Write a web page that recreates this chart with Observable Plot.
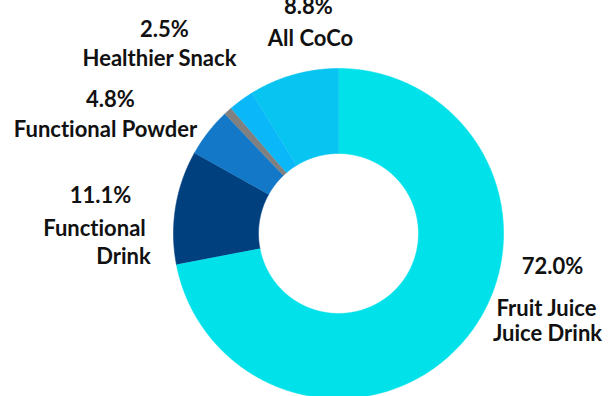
<!DOCTYPE html>
<html>
<head>
<meta charset="utf-8">
<script src="https://cdn.jsdelivr.net/npm/d3@7"></script>
<script src="https://cdn.jsdelivr.net/npm/@observablehq/plot@0.6"></script>
<style>
  html, body { margin: 0; padding: 0; background: #fff; }
  #chart { width: 616px; height: 396px; overflow: hidden; }
  #chart text { font-variant-ligatures: none; font-feature-settings: "liga" 0, "dlig" 0; }
</style>
</head>
<body>
<div id="chart"></div>
<script>
// ---- data ----
const categories = ["Fruit Juice\nJuice Drink", "Functional\nDrink", "Functional Powder", "Other", "Healthier Snack", "All CoCo"];
const shares = [72.0, 11.1, 4.8, 0.8, 2.5, 8.8];
const percentLabels = ["72.0%", "11.1%", "4.8%", "", "2.5%", "8.8%"];
const colors = ["#00E1EA", "#00407E", "#1478C8", "#808080", "#0AB8FA", "#08C4F0"];

// ---- layout (pixel-like data space) ----
const W = 616, H = 396;
const cx = 338, cy = 233, outerR = 165, innerR = 80;
// label anchors: [percent x, percent y, name x, name y]
const labelLayout = [
  {px: 552, py: 273, nx: 546, ny: 315, anchor: "middle"},
  {px: 100, py: 202, nx: 94,  ny: 235, anchor: "middle"},
  {px: 110, py: 106, nx: 105, ny: 136, anchor: "middle"},
  null,
  {px: 164, py: 36,  nx: 159, ny: 65,  anchor: "middle"},
  {px: 308, py: 13,  nx: 310, ny: 45,  anchor: "middle"}
];

const slices = categories.map((c, i) => ({name: c, value: shares[i], color: colors[i], pct: percentLabels[i], i}));
const arcs = d3.pie().sort(null).value(d => d.value).startAngle(0).endAngle(2 * Math.PI)(slices);

// polygon points for each ring segment
const pts = [];
for (const a of arcs) {
  const n = Math.max(4, Math.ceil((a.endAngle - a.startAngle) / (Math.PI / 360)));
  const ring = [];
  for (let k = 0; k <= n; k++) {
    const t = a.startAngle + (a.endAngle - a.startAngle) * k / n;
    ring.push({t, r: outerR});
  }
  for (let k = n; k >= 0; k--) {
    const t = a.startAngle + (a.endAngle - a.startAngle) * k / n;
    ring.push({t, r: innerR});
  }
  for (const p of ring) {
    pts.push({name: a.data.name, color: a.data.color,
      x: cx + p.r * Math.sin(p.t), y: cy - p.r * Math.cos(p.t)});
  }
}

// text labels
const texts = [];
slices.forEach((s, i) => {
  const L = labelLayout[i];
  if (!L) return;
  texts.push({x: L.px, y: L.py, text: s.pct, anchor: L.anchor});
  const lines = s.name.split("\n");
  lines.forEach((ln, j) => {
    let x = L.nx;
    if (i === 1 && j === 1) x = 123;
    if (i === 0 && j === 1) x = 547;
    texts.push({x, y: L.ny + j * (i === 0 ? 25 : 28), text: ln, anchor: L.anchor});
  });
});

const chart = Plot.plot({
  width: W,
  height: H,
  margin: 0,
  x: {domain: [0, W], range: [0, W], axis: null},
  y: {domain: [0, H], range: [0, H], axis: null},
  style: {background: "white", fontFamily: "Lato, 'Open Sans', sans-serif"},
  marks: [
    Plot.line(pts, {x: "x", y: "y", z: "name", fill: "color", stroke: "color", strokeWidth: 0.6, curve: "linear"}),
    Plot.text(texts, {x: "x", y: "y", text: "text", textAnchor: "anchor", lineAnchor: "bottom",
      fontSize: 22, fontWeight: "bold", fill: "#111"})
  ]
});
document.getElementById("chart").appendChild(chart);
</script>
</body>
</html>
